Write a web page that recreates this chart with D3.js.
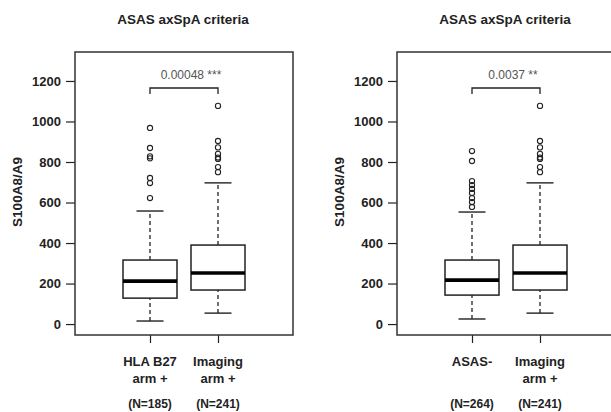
<!DOCTYPE html>
<html>
<head>
<meta charset="utf-8">
<script src="https://cdn.jsdelivr.net/npm/d3@7"></script>
<style>
  body { margin: 0; background: #fff; }
  svg { display: block; font-family: "Liberation Sans", Arial, sans-serif; }
  .tick text { font-weight: bold; font-size: 13px; fill: #222; }
</style>
</head>
<body>
<svg id="chart" width="611" height="412"></svg>
<script>
// values
const yTicks = [0, 200, 400, 600, 800, 1000, 1200];

const leftGroups = ['HLA B27|arm +', 'Imaging|arm +'];
const leftCounts = [185, 241];
// [low whisker, Q1, median, Q3, high whisker]
const leftStats = [[15, 128, 212, 316, 558], [54, 168, 252, 390, 697]];
const leftOutliers = [
    [622, 696, 721, 818, 828, 869, 968],
    [750, 775, 815, 822, 840, 872, 904, 1077]
];
const leftP = '0.00048 ***';

const rightGroups = ['ASAS-', 'Imaging|arm +'];
const rightCounts = [264, 241];
const rightStats = [[25, 143, 217, 316, 553], [54, 168, 252, 390, 697]];
const rightOutliers = [
    [578, 602, 622, 647, 667, 686, 706, 805, 854],
    [750, 775, 815, 822, 840, 872, 904, 1077]
];
const rightP = '0.0037 **';

let svg = d3.select('#chart');
let ink = '#222';

// plot frame is 218 x 283, groups sit 75 and 143 px in from its left edge
let frameW = 218, frameTop = 52, frameBottom = 335;
let y = d3.scaleLinear().domain([-54, 1343]).range([frameBottom, frameTop]);

function drawPanel(left, groups, counts, stats, outliers, pText) {
    let g = svg.append('g').attr('transform', 'translate(' + left + ',0)');
    let x = d3.scalePoint().domain(groups).range([75, 143]);
    let boxW = 54;

    g.append('text')
        .attr('x', 108).attr('y', 24)
        .attr('text-anchor', 'middle')
        .style('font-weight', 'bold').style('font-size', '13.5px')
        .attr('fill', ink)
        .text('ASAS axSpA criteria');

    g.append('text')
        .attr('transform', 'translate(' + (-58) + ',' + 192 + ') rotate(-90)')
        .attr('dy', '0.35em')
        .attr('text-anchor', 'middle')
        .style('font-weight', 'bold').style('font-size', '13.5px')
        .attr('fill', ink)
        .text('S100A8/A9');

    let yAxis = g.append('g')
        .call(d3.axisLeft(y).tickValues(yTicks).tickSize(9).tickPadding(5).tickFormat(d3.format('d')));
    yAxis.select('.domain').remove();
    yAxis.selectAll('line').attr('stroke', ink).attr('stroke-width', 1.2);

    let xAxis = g.append('g')
        .attr('transform', 'translate(0,' + frameBottom + ')')
        .call(d3.axisBottom(x).tickSize(8).tickFormat(''));
    xAxis.select('.domain').remove();
    xAxis.selectAll('line').attr('stroke', ink).attr('stroke-width', 1.2);

    groups.forEach((name, i) => {
        let lines = name.split('|');
        let t = g.append('text')
            .attr('text-anchor', 'middle')
            .style('font-weight', 'bold').style('font-size', '13px')
            .attr('fill', ink);
        lines.forEach((s, j) => {
            t.append('tspan').attr('x', x(name)).attr('y', 366 + j * 17).text(s);
        });
        g.append('text')
            .attr('x', x(name)).attr('y', 408)
            .attr('text-anchor', 'middle')
            .style('font-weight', 'bold').style('font-size', '12px')
            .attr('fill', ink)
            .text('(N=' + counts[i] + ')');
    });

    g.append('rect')
        .attr('x', 0).attr('y', frameTop)
        .attr('width', frameW).attr('height', frameBottom - frameTop)
        .attr('fill', 'none').attr('stroke', '#333').attr('stroke-width', 1.5);

    let boxes = g.selectAll('.box')
        .data(groups.map((name, i) => ({name: name, s: stats[i], out: outliers[i]})))
        .enter().append('g').attr('class', 'box');

    boxes.each(function (d) {
        let b = d3.select(this);
        let cx = x(d.name);
        let s = d.s;
        // whiskers
        [[s[0], s[1]], [s[3], s[4]]].forEach(seg => {
            b.append('line')
                .attr('x1', cx).attr('x2', cx)
                .attr('y1', y(seg[0])).attr('y2', y(seg[1]))
                .attr('stroke', ink).attr('stroke-width', 1.3)
                .attr('stroke-dasharray', '4,3');
        });
        [s[0], s[4]].forEach(v => {
            b.append('line')
                .attr('x1', cx - boxW / 4).attr('x2', cx + boxW / 4)
                .attr('y1', y(v)).attr('y2', y(v))
                .attr('stroke', ink).attr('stroke-width', 1.4);
        });
        b.append('rect')
            .attr('x', cx - boxW / 2).attr('y', y(s[3]))
            .attr('width', boxW).attr('height', y(s[1]) - y(s[3]))
            .attr('fill', '#fff').attr('stroke', ink).attr('stroke-width', 1.5);
        b.append('line')
            .attr('x1', cx - boxW / 2).attr('x2', cx + boxW / 2)
            .attr('y1', y(s[2])).attr('y2', y(s[2]))
            .attr('stroke', '#000').attr('stroke-width', 3.6);
        b.selectAll('circle')
            .data(d.out)
            .enter().append('circle')
            .attr('cx', cx).attr('cy', v => y(v))
            .attr('r', 2.6)
            .attr('fill', 'none').attr('stroke', ink).attr('stroke-width', 1.1);
    });

    // significance bracket
    let x1 = x(groups[0]), x2 = x(groups[1]);
    g.append('path')
        .attr('d', 'M' + x1 + ',94 L' + x1 + ',88 L' + x2 + ',88 L' + x2 + ',94')
        .attr('fill', 'none').attr('stroke', ink).attr('stroke-width', 1.3);
    g.append('text')
        .attr('x', (x1 + x2) / 2 + 7).attr('y', 79)
        .attr('text-anchor', 'middle')
        .style('font-size', '12px')
        .attr('fill', '#555')
        .text(pText);
}

drawPanel(75, leftGroups, leftCounts, leftStats, leftOutliers, leftP);
drawPanel(397, rightGroups, rightCounts, rightStats, rightOutliers, rightP);
</script>
</body>
</html>
